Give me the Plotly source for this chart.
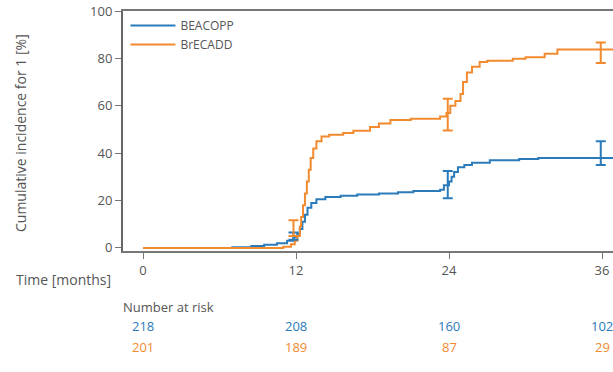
import plotly.graph_objects as go

# ---- data ----
beacopp_t = [0, 7, 8.5, 9.5, 10.5, 11.3, 11.8, 12.1, 12.3, 12.5, 12.7, 12.9, 13.2, 13.6, 14.3, 15.5,
             16.8, 18.5, 20, 21.2, 23.3, 23.6, 24, 24.2, 24.4, 24.7, 25.2, 25.8, 27.2, 29.5, 31, 36.9]
beacopp_v = [0, 0.3, 0.8, 1.3, 2, 3, 4.5, 6, 8, 11, 14, 17, 19, 20.5, 21.5, 22,
             22.5, 23, 23.5, 24, 24.5, 26.5, 28, 30, 32, 34, 35, 36, 37, 37.5, 38, 38]

brecadd_t = [0, 11, 11.6, 11.9, 12.1, 12.3, 12.4, 12.55, 12.7, 12.85, 13.0, 13.15, 13.35, 13.6, 14.0,
             14.6, 15.7, 16.5, 17.8, 18.5, 19.4, 21, 23.3, 23.8, 24.1, 24.5, 24.9, 25.1, 25.4, 25.8,
             26.4, 27, 29, 30, 31.5, 32.5, 36.9]
brecadd_v = [0, 0.5, 1.5, 3, 5, 9, 13, 18, 23, 28, 33, 38, 42, 45, 47,
             47.8, 48.5, 49.5, 51, 52.5, 54, 54.5, 55.5, 57, 60, 62, 65, 70, 74, 76.5,
             78.5, 79, 79.8, 80.5, 82, 83.7, 83.7]

ci_t = [11.8, 23.9, 35.9]
beacopp_ci_mid = [5, 26.5, 38.3]
beacopp_ci_lo = [3.5, 21, 35]
beacopp_ci_hi = [6.5, 32.5, 45]
brecadd_ci_mid = [8, 55.5, 83.3]
brecadd_ci_lo = [5, 49.6, 78]
brecadd_ci_hi = [11.7, 63, 86.7]

risk_times = [0, 12, 24, 36]
risk_beacopp = [218, 208, 160, 102]
risk_brecadd = [201, 189, 87, 29]

x_ticks = [0, 12, 24, 36]
y_ticks = [0, 20, 40, 60, 80, 100]

BLUE = "#2b7bba"
ORANGE = "#f28a30"
TXT = "#555555"
FONT = "Open Sans"

fig = go.Figure()

fig.add_trace(go.Scatter(x=beacopp_t, y=beacopp_v, mode="lines", line_shape="hv",
                         line=dict(color=BLUE, width=2), name="BEACOPP"))
fig.add_trace(go.Scatter(x=brecadd_t, y=brecadd_v, mode="lines", line_shape="hv",
                         line=dict(color=ORANGE, width=2), name="BrECADD"))

for mid, lo, hi, col in [(beacopp_ci_mid, beacopp_ci_lo, beacopp_ci_hi, BLUE),
                         (brecadd_ci_mid, brecadd_ci_lo, brecadd_ci_hi, ORANGE)]:
    fig.add_trace(go.Scatter(
        x=ci_t, y=mid, mode="markers", marker=dict(size=1, color=col, opacity=0),
        showlegend=False, hoverinfo="skip",
        error_y=dict(type="data", symmetric=False,
                     array=[h - m for h, m in zip(hi, mid)],
                     arrayminus=[m - l for m, l in zip(mid, lo)],
                     color=col, thickness=2, width=5)))

annotations = []
for t, nb, no in zip(risk_times, risk_beacopp, risk_brecadd):
    annotations.append(dict(x=t, y=0, xref="x", yref="paper", xanchor="center", yanchor="middle",
                            yshift=-75, text=str(nb), showarrow=False,
                            font=dict(color=BLUE, size=13, family=FONT)))
    annotations.append(dict(x=t, y=0, xref="x", yref="paper", xanchor="center", yanchor="middle",
                            yshift=-96, text=str(no), showarrow=False,
                            font=dict(color=ORANGE, size=13, family=FONT)))

annotations.append(dict(x=0, y=0, xref="paper", yref="paper", xanchor="right", yanchor="middle",
                        xshift=-10, yshift=-28, text="Time [months]", showarrow=False,
                        font=dict(color=TXT, size=14, family=FONT)))
annotations.append(dict(x=0, y=0, xref="paper", yref="paper", xanchor="left", yanchor="middle",
                        xshift=-2, yshift=-56, text="Number at risk", showarrow=False,
                        font=dict(color=TXT, size=13, family=FONT)))
annotations.append(dict(x=0, y=0.5, xref="paper", yref="paper", xanchor="center", yanchor="middle",
                        xshift=-103, yshift=-2, text="Cumulative incidence for 1 [%]", textangle=-90,
                        showarrow=False, font=dict(color=TXT, size=14, family=FONT)))

fig.update_layout(
    width=613, height=372,
    margin=dict(l=123, r=0, t=11, b=121),
    paper_bgcolor="white", plot_bgcolor="white",
    font=dict(family=FONT, size=13, color=TXT),
    showlegend=True,
    legend=dict(x=0.005, y=1.0, xanchor="left", yanchor="top", bgcolor="rgba(0,0,0,0)",
                font=dict(size=12, color=TXT, family=FONT), tracegroupgap=0, itemwidth=45),
    annotations=annotations,
)
fig.update_xaxes(range=[-1.57, 36.86], tickvals=x_ticks, ticks="outside", ticklen=6,
                 tickcolor="#777", showgrid=False, zeroline=False, showline=True,
                 linecolor="#777", linewidth=2, mirror=True, tickfont=dict(size=13, color=TXT))
fig.update_yaxes(range=[-1.3, 100], tickvals=y_ticks, ticks="outside", ticklen=6,
                 tickcolor="#777", showgrid=False, zeroline=False, showline=True,
                 linecolor="#666", linewidth=2, tickfont=dict(size=13, color=TXT))

fig.write_html("out.html")
